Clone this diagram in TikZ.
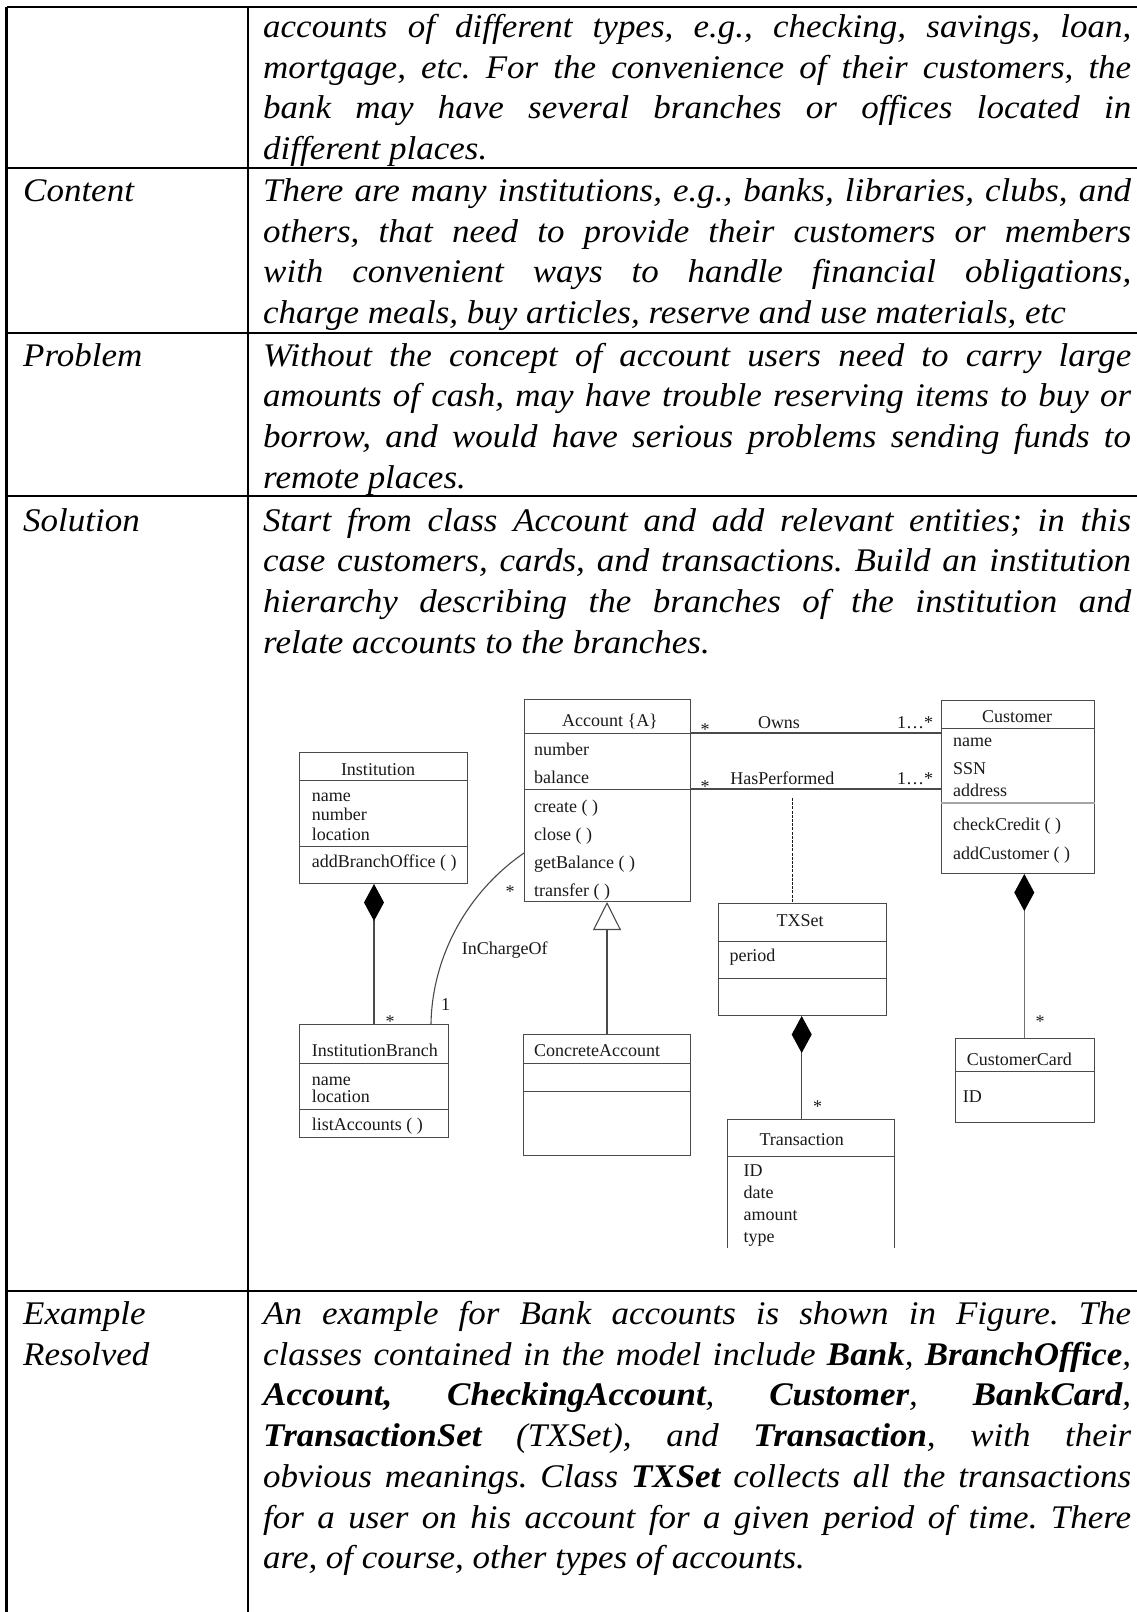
\documentclass[tikz,border=0pt]{standalone}
\usepackage{fontspec}
\setmainfont{Liberation Serif}
\newfontfamily\bodyfam{Liberation Serif}[FakeStretch=1.06]
\newfontfamily\umlfam{Liberation Serif}
\usetikzlibrary{arrows.meta,calc}

\definecolor{umlline}{HTML}{4A4A4A}
\definecolor{umlink}{HTML}{1A1A1A}

\newcommand\bodytext{\bodyfam\itshape\fontsize{33}{40.7}\selectfont\frenchspacing}
\newcommand\umltext{\umlfam\fontsize{18}{19}\selectfont}
% one justified line of a table cell
\newcommand\jl[1]{\makebox[868pt][s]{#1}\\}
% compartment separator inside a class box, #3 = offset below its top
\newcommand\hsep[3][]{\draw[sepline,#1] ($(#2.north west)+(0,#3)$) -- ($(#2.north east)+(0,#3)$);}

\tikzset{
  rule/.style={line width=2.2pt, black},
  cellhead/.style={anchor=base west, inner sep=0pt, font=\bodytext},
  para/.style={anchor=base west, inner sep=0pt},
  umlbox/.style={draw=umlline, line width=1pt, anchor=north west, inner sep=0pt},
  sepline/.style={draw=umlline, line width=1pt},
  assoc/.style={draw=umlline, line width=1.1pt},
  utxt/.style={anchor=base west, inner sep=0pt, font=\umltext, text=umlink},
  utitle/.style={anchor=base, inner sep=0pt, font=\umltext, text=umlink},
  comp/.style={assoc, {Diamond[length=37pt,width=20pt,fill=black,color=black]}-},
}

\begin{document}
\begin{tikzpicture}[x=1pt, y=-1pt]
\useasboundingbox (0,0) rectangle (1137,1612);
\fill[white] (0,0) rectangle (1137,1612);

% ---- table rules ----
\draw[rule] (6.5,7) -- (1137,7);
\draw[rule] (6.5,168) -- (1137,168);
\draw[rule] (6.5,333) -- (1137,333);
\draw[rule] (6.5,496) -- (1137,496);
\draw[rule] (6.5,1291) -- (1137,1291);
\draw[rule] (6.5,7) -- (6.5,1612);
\draw[rule] (248,7) -- (248,1612);

% ---- row headings ----
\node[cellhead] (hContent) at (23,201.5) {Content};
\node[cellhead] (hProblem) at (23,366) {Problem};
\node[cellhead] (hSolution) at (23,531) {Solution};
\node[cellhead] (hExample) at (23,1324.5) {Example};
\node[cellhead] (hResolved) at (23,1365.2) {Resolved};

% ---- row texts ----
\node[para] (tIntro) at (263,37.5) {\parbox[t]{868pt}{\bodytext
\jl{accounts of different types, e.g., checking, savings, loan,}
\jl{mortgage, etc. For the convenience of their customers, the}
\jl{bank may have several branches or offices located in}
different places.}};

\node[para] (tContent) at (263,201.5) {\parbox[t]{868pt}{\bodytext
\jl{There are many institutions, e.g., banks, libraries, clubs, and}
\jl{others, that need to provide their customers or members}
\jl{with convenient ways to handle financial obligations,}
charge meals, buy articles, reserve and use materials, etc}};

\node[para] (tProblem) at (263,366) {\parbox[t]{868pt}{\bodytext
\jl{Without the concept of account users need to carry large}
\jl{amounts of cash, may have trouble reserving items to buy or}
\jl{borrow, and would have serious problems sending funds to}
remote places.}};

\node[para] (tSolution) at (263,531) {\parbox[t]{868pt}{\bodytext
\jl{Start from class Account and add relevant entities; in this}
\jl{case customers, cards, and transactions. Build an institution}
\jl{hierarchy describing the branches of the institution and}
relate accounts to the branches.}};

\node[para] (tExample) at (263,1324.5) {\parbox[t]{868pt}{\bodytext
\jl{An example for Bank accounts is shown in Figure. The}
\jl{classes contained in the model include \textbf{Bank}, \textbf{BranchOffice},}
\jl{\textbf{Account,} \textbf{CheckingAccount}, \textbf{Customer}, \textbf{BankCard},}
\jl{\textbf{TransactionSet} (TXSet), and \textbf{Transaction}, with their}
\jl{obvious meanings. Class \textbf{TXSet} collects all the transactions}
\jl{for a user on his account for a given period of time. There}
are, of course, other types of accounts.}};

% ---- class boxes ----
\node[umlbox, minimum width=168pt, minimum height=131pt] (inst) at (299,752) {};
\hsep{inst}{28} \hsep{inst}{94}
\node[utitle] (instT) at (378,775) {Institution};
\node[utxt] (instA1) at (311.7,801.7) {name};
\node[utxt] (instA2) at (311.7,820) {number};
\node[utxt] (instA3) at (311.7,840.7) {location};
\node[utxt] (instO1) at (311.7,867.7) {addBranchOffice ( )};

\node[umlbox, minimum width=166pt, minimum height=202pt] (acc) at (524,699) {};
\hsep{acc}{34} \hsep{acc}{90}
\node[utitle] (accT) at (610,726.7) {Account \{A\}};
\node[utxt] (accA1) at (534,755.7) {number};
\node[utxt] (accA2) at (534,783.3) {balance};
\node[utxt] (accO1) at (534,812.3) {create ( )};
\node[utxt] (accO2) at (534,840.7) {close ( )};
\node[utxt] (accO3) at (534,868.3) {getBalance ( )};
\node[utxt] (accO4) at (534,896.7) {transfer ( )};

\node[umlbox, minimum width=153pt, minimum height=173pt] (cust) at (941,700) {};
\hsep{cust}{28}
\hsep[draw=gray!70, line width=2pt]{cust}{103}
\node[utitle] (custT) at (1017,722.7) {Customer};
\node[utxt] (custA1) at (953,746) {name};
\node[utxt] (custA2) at (953,774.3) {SSN};
\node[utxt] (custA3) at (953,796) {address};
\node[utxt] (custO1) at (953,830.7) {checkCredit ( )};
\node[utxt] (custO2) at (953,859.3) {addCustomer ( )};

\node[umlbox, minimum width=168pt, minimum height=112pt] (txset) at (718,903) {};
\hsep{txset}{38} \hsep{txset}{75}
\node[utitle] (txsetT) at (800,926) {TXSet};
\node[utxt] (txsetA1) at (729.3,961.7) {period};

% Transaction box runs past the lower edge of the figure: no bottom side
\node[anchor=north west, inner sep=0pt, minimum width=167pt, minimum height=129pt] (trans) at (727,1119) {};
\draw[sepline] (trans.south west) -- (trans.north west) -- (trans.north east) -- (trans.south east);
\hsep{trans}{37}
\node[utitle] (transT) at (801.7,1145) {Transaction};
\node[utxt] (transA1) at (743.3,1176.7) {ID};
\node[utxt] (transA2) at (743.3,1198.3) {date};
\node[utxt] (transA3) at (743.3,1220) {amount};
\node[utxt] (transA4) at (743.3,1242.3) {type};

\node[umlbox, minimum width=149pt, minimum height=113pt] (ib) at (299,1024) {};
\hsep{ib}{39} \hsep{ib}{85}
\node[utxt] (ibT) at (311.7,1056.7) {InstitutionBranch};
\node[utxt] (ibA1) at (311.7,1085) {name};
\node[utxt] (ibA2) at (311.7,1102.7) {location};
\node[utxt] (ibO1) at (311.7,1130.7) {listAccounts ( )};

\node[umlbox, minimum width=167pt, minimum height=121pt] (conc) at (523,1034) {};
\hsep{conc}{29} \hsep{conc}{57}
\node[utxt] (concT) at (534,1056.7) {ConcreteAccount};

\node[umlbox, minimum width=139pt, minimum height=84pt] (card) at (955,1038) {};
\hsep{card}{33}
\node[utxt] (cardT) at (966.7,1065) {CustomerCard};
\node[utxt] (cardA1) at (962.7,1102.3) {ID};

% ---- associations ----
\draw[assoc] ($(acc.north east)+(0,34)$) -- ($(cust.north west)+(0,33)$);
\node[utitle] (ownsM1) at (705,735.2) {*};
\node[utitle] (ownsL) at (779,728.3) {Owns};
\node[utitle] (ownsM2) at (915,728.3) {1…*};

\draw[assoc] ($(acc.north east)+(0,90)$) -- ($(cust.north west)+(0,89)$);
\node[utitle] (hpM1) at (705,792.5) {*};
\node[utitle] (hpL) at (782.3,784.3) {HasPerformed};
\node[utitle] (hpM2) at (915,784.3) {1…*};

% association class link
\coordinate (hpLink) at (792.3,798);
\draw[draw=umlink, line width=0.8pt, dash pattern=on 3pt off 1.2pt] (hpLink) -- (hpLink |- txset.north);

% generalization
\coordinate (genX) at (607,0);
\draw[assoc, -{Triangle[open,length=28pt,width=28pt]}] (conc.north -| genX) -- (acc.south -| genX);

% compositions
\coordinate (instX) at (374,0);
\draw[comp] (inst.south -| instX) -- (ib.north -| instX);
\node[utitle] (ibM) at (390,1027.5) {*};

\coordinate (txX) at (801.7,0);
\draw[comp] (txset.south -| txX) -- (trans.north -| txX);
\node[utitle] (transM) at (817.7,1112.5) {*};

\coordinate (custX) at (1024.3,0);
\draw[comp, draw=umlline!80] (cust.south -| custX) -- (card.north -| custX);
\node[utitle] (cardM) at (1040,1027.8) {*};

% InChargeOf
\coordinate (icX) at (431,0);
\coordinate (icY) at (0,853);
\draw[assoc] (acc.west |- icY) .. controls (466,893) and (432,958) .. (ib.north -| icX);
\node[utitle] (icL) at (504.7,954) {InChargeOf};
\node[utitle] (icM1) at (510,897.5) {*};
\node[utitle] (icM2) at (445.7,1010) {1};
\end{tikzpicture}
\end{document}
